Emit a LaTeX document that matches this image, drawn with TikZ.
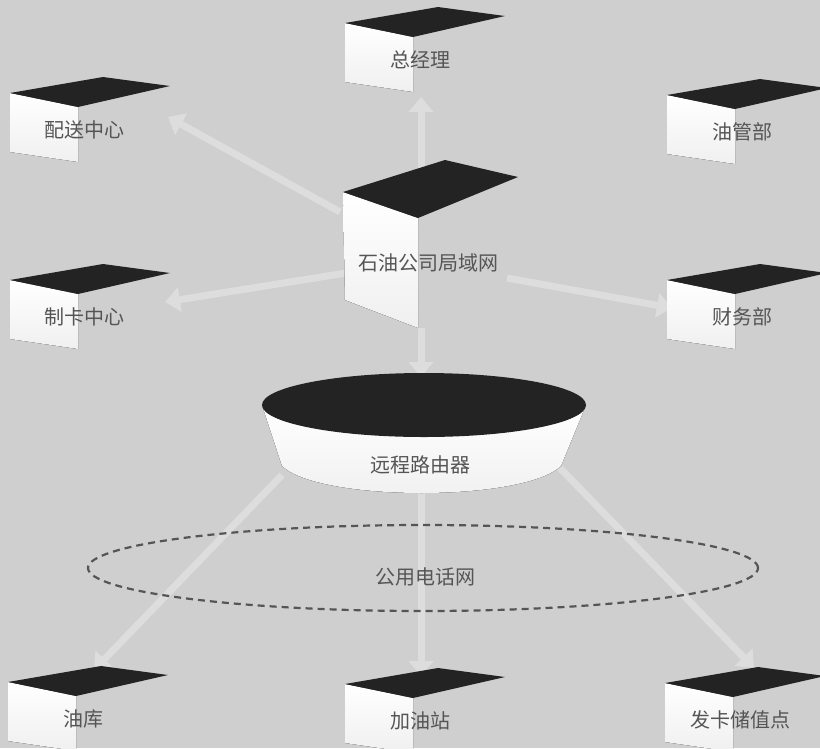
\documentclass[tikz,border=0pt]{standalone}
\usepackage{fontspec}
\newfontfamily\cjk{Noto Sans CJK SC}
\usetikzlibrary{arrows.meta,shapes.geometric}
\definecolor{bg}{HTML}{CFCFCF}
\definecolor{arr}{HTML}{DDDDDD}
\definecolor{topc}{HTML}{232323}
\definecolor{txt}{HTML}{555555}
\definecolor{dashc}{HTML}{555555}
\tikzset{
  lbl/.style={font=\cjk\fontsize{20}{22}\selectfont, text=txt, inner sep=0pt},
  conn/.style={draw=arr, line width=7pt, -{Triangle[width=24pt,length=15pt]}},
  topface/.style={fill=topc},
  frontface/.style={top color=white, bottom color=black!6},
  pstnline/.style={draw=dashc, line width=2.2pt, dash pattern=on 7pt off 5pt}
}
\newcommand\cubebox[4]{%
  \begin{scope}[shift={(#2,#3)}]
    \fill[frontface] (0,0) -- (68,14) -- (68,69) -- (0,59) -- cycle;
    \fill[topface] (0,0) -- (93,-16) -- (160,-7) -- (68,14) -- cycle;
  \end{scope}
  \node[lbl] (#1) at ({#2+75},{#3+37}) {#4};
}
\begin{document}
\begin{tikzpicture}[x=1pt,y=-1pt]
\useasboundingbox (0,0) rectangle (820,748);
\begin{scope}
\clip (0,0) rectangle (820,748);
\fill[bg] (0,0) rectangle (820,748);

% connector end points
\coordinate (lanUp) at (421,185);
\coordinate (gmEnd) at (421,97);
\coordinate (lanUL) at (340,212);
\coordinate (psEnd) at (168,117);
\coordinate (lanL) at (346,273);
\coordinate (zkEnd) at (165,302);
\coordinate (lanR) at (507,278);
\coordinate (cwEnd) at (672,308);
\coordinate (lanDown) at (421,328);
\coordinate (rtTop) at (421,377);
\coordinate (rtL) at (282,475);
\coordinate (ykEnd) at (94,670);
\coordinate (rtD) at (421,492);
\coordinate (jyEnd) at (421,676);
\coordinate (rtR) at (560,468);
\coordinate (fkEnd) at (754,668);

\draw[conn] (lanUp) -- (gmEnd);
\draw[conn] (lanUL) -- (psEnd);
\draw[conn] (lanL) -- (zkEnd);
\draw[conn] (lanR) -- (cwEnd);
\draw[conn] (lanDown) -- (rtTop);
\draw[conn] (rtL) -- (ykEnd);
\draw[conn] (rtD) -- (jyEnd);
\draw[conn] (rtR) -- (fkEnd);

% boxes
\cubebox{gm}{345}{23}{总经理}
\cubebox{ps}{10}{93}{配送中心}
\cubebox{yg}{667}{95}{油管部}
\cubebox{zk}{10}{280}{制卡中心}
\cubebox{cw}{667}{280}{财务部}
\cubebox{yk}{8}{682}{油库}
\cubebox{jy}{345}{684}{加油站}
\cubebox{fk}{665}{683}{发卡储值点}

% LAN box (larger)
\begin{scope}[shift={(343,192)}]
  \fill[frontface] (0,0) -- (75,26) -- (75,136) -- (2,108) -- cycle;
  \fill[topface] (0,0) -- (102,-32) -- (175,-15) -- (75,26) -- cycle;
\end{scope}
\node[lbl] (lan) at (428,263) {石油公司局域网};

% router
\fill[frontface] (262,405) -- (282,466) .. controls (320,502) and (523,502) .. (561,466) -- (586,405) -- cycle;
\fill[topface] (424,405) ellipse [x radius=162pt, y radius=32pt];
\node[lbl] (router) at (420,465) {远程路由器};

% public telephone network
\node[ellipse, pstnline, minimum width=670pt, minimum height=86pt, inner sep=0pt] (pstn) at (423,568) {};
\node[lbl] (pstnlbl) at (425,577) {公用电话网};
\end{scope}
\end{tikzpicture}
\end{document}
